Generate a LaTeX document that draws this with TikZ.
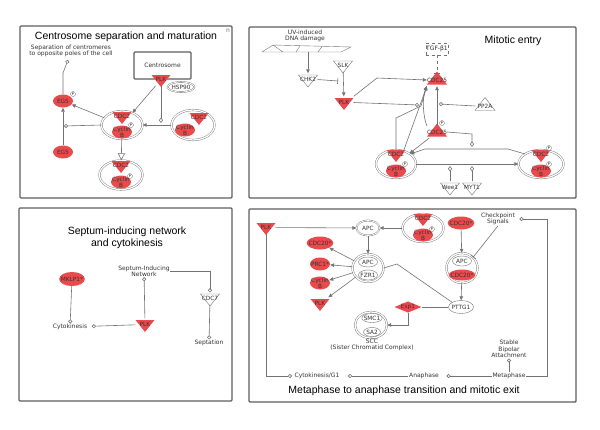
\documentclass[tikz,border=0pt]{standalone}
\usepackage{fontspec}
\setmainfont{Liberation Sans}
\newfontfamily\labelfont{DejaVu Sans}
\usetikzlibrary{positioning,shapes.geometric,arrows.meta}
\definecolor{ipared}{RGB}{234,74,76}
\definecolor{linegray}{RGB}{115,115,115}
\definecolor{framegray}{RGB}{95,95,95}
\tikzset{
  panel/.style={draw=framegray,line width=1.4pt,rounded corners=1pt},
  title/.style={font=\fontsize{10.5}{12.5}\selectfont,align=center,inner sep=0pt},
  lbl/.style={font=\labelfont\fontsize{6}{6.4}\selectfont,align=center,text=black!80,inner sep=0.5pt},
  inlbl/.style={font=\labelfont\fontsize{5.8}{5.6}\selectfont,align=center,text=black!80,inner sep=0pt},
  mol/.style={inlbl,shape=ellipse,fill=ipared,inner xsep=-2pt,inner ysep=-1pt,
        minimum width=20pt,minimum height=13pt},
  protein/.style={inlbl,shape=ellipse,draw=linegray,line width=0.4pt,fill=white,
        inner xsep=-1pt,minimum width=19pt,minimum height=10pt},
  complex/.style={inlbl,shape=ellipse,draw=linegray,line width=0.4pt,double=white,
        double distance=1.3pt,minimum width=41pt,minimum height=28pt},
  genebox/.style={inlbl,minimum width=19pt,minimum height=12pt},
  openshape/.style={fill=white,draw=linegray,line width=0.4pt},
  phos/.style={shape=circle,draw=linegray,fill=white,line width=0.3pt,inner sep=0pt,
        minimum size=5pt,font=\labelfont\fontsize{3.5}{3.5}\selectfont},
  link/.style={draw=linegray,line width=0.6pt},
  act/.style={link,-{Triangle[length=4pt,width=3.5pt]}},
  leadsto/.style={link,-{Circle[open,length=4pt]}},
  modulates/.style={link,-{Diamond[open,length=5.5pt,width=4pt]}},
  inhibits/.style={link,-{Bar[width=6pt]}},
  transloc/.style={link,-{Triangle[open,length=7pt,width=7pt]}}
}
\newcommand{\kinase}[4][fill=ipared]{%
  %% triangle pointing down
  \path[#1,shift={(#3)}] (-9.5,-6) -- (9.5,-6) -- (0,6) -- cycle;
  \node[genebox,yshift=1.5pt] (#2) at (#3) {#4};}
\newcommand{\phosphatase}[4][fill=ipared]{%
  %% triangle pointing up
  \path[#1,shift={(#3)}] (-10,6.5) -- (10,6.5) -- (0,-6.5) -- cycle;
  \node[genebox,yshift=-2pt] (#2) at (#3) {#4};}
\newcommand{\phosmark}[2]{\node[phos] (#1) at (#2) {P};}

\begin{document}
\begin{tikzpicture}[x=1pt,y=-1pt]
  \fill[white] (0,0) rectangle (600,429);
  \useasboundingbox (0,0) rectangle (600,429);

  %% Centrosome separation and maturation
  \draw[panel] (20,26) rectangle (232,198);
  \node[title] (titlecs) at (126,37) {Centrosome separation and maturation};
  \node[lbl,text=linegray] (cornern) at (228,31) {n};
  \node[lbl] (sepcentro) at (71,51) {Separation of centromeres\\to opposite poles of the cell};
  \coordinate (sepend) at (68,60);
  \node[lbl,draw=framegray,line width=1.2pt,rounded corners=1pt,
        minimum width=57pt,minimum height=27pt] (centrosome) at (162.5,65.5) {Centrosome};
  \node[complex,minimum width=23pt,minimum height=10pt,double distance=0.8pt]
        (hspninety) at (181,87) {HSP90};
  \kinase{plkcs}{161,81}{PLK}
  \node[mol] (eggup) at (63,101) {EG5};
  \phosmark{peggup}{73,94}
  \node[mol] (eggdown) at (63,152) {EG5};
  \node[complex] (cdccycA) at (122,125) {};
  \node[mol] (cycA) at (122,132) {Cyclin\\B};
  \kinase{cdctwoA}{122,118}{CDC2}
  \phosmark{pA}{131,125}
  \node[complex,minimum width=43pt,minimum height=30pt] (cdccycB) at (193,125) {};
  \node[mol] (cycB) at (185,130) {Cyclin\\B};
  \kinase{cdctwoB}{199,119}{CDC2}
  \node[complex,minimum width=43pt,minimum height=29pt] (cdccycC) at (121,175) {};
  \node[mol] (cycC) at (121,182) {Cyclin\\B};
  \kinase{cdctwoC}{121,167}{CDC2}
  \phosmark{pC}{130,176}
  %% connectors
  \draw[act] (eggdown) -- (eggup);
  \draw[leadsto] (eggup.north) -- (63,73) -- (sepend);
  \coordinate (eggjoin) at (64,126);
  \draw[leadsto] (cdccycA.west) -- (eggjoin);
  \draw[act] (cdccycA) -- (eggup);
  \draw[act] (plkcs) -- (cdccycA);
  \coordinate (plkmod) at (161,123);
  \draw[modulates] (plkcs.south) -- (plkmod);
  \draw[act] (cdccycB) -- (cdccycA);
  \draw[transloc] (cdccycA) -- (cdccycC);

  %% Mitotic entry
  \draw[panel] (249,27) rectangle (576,198);
  \node[title] (titleme) at (513,41) {Mitotic entry};
  \node[lbl] (uvtext) at (305,36) {UV-induced\\DNA damage};
  \draw[link,line width=0.4pt] (262,52) -- (273,45) -- (351,47) -- (341,52) -- cycle
        (273,45) -- (283,52) (300,46) -- (296,52) (322,46.5) -- (318,52);
  \node[inner sep=0pt,minimum width=88pt,minimum height=7pt] (uvdamage) at (306,48.5) {};
  \kinase[openshape]{chktwo}{308,81}{CHK2}
  \kinase[openshape]{slk}{343,67}{SLK}
  \kinase{plkme}{344,104}{PLK}
  \node[lbl,draw=linegray,dashed,minimum width=20pt,minimum height=12pt] (tgfb) at (437,49) {TGF-β1};
  \phosphatase{cdctwofiveA}{437,78}{CDC25}
  \phosphatase[openshape]{pptwoa}{485,104}{PP2A}
  \phosphatase{cdctwofiveB}{437,130}{CDC25}
  \phosmark{pcdcB}{442,123}
  \node[complex,minimum width=40pt,minimum height=28pt] (cdccycD) at (396,164) {};
  \node[mol] (cycD) at (396,171) {Cyclin\\B};
  \kinase{cdctwoD}{396,156}{CDC2}
  \phosmark{pD}{405,164}
  \node[complex,minimum width=45pt,minimum height=28pt] (cdccycE) at (541,164) {};
  \node[mol] (cycE) at (541,171) {Cyclin\\B};
  \kinase{cdctwoE}{541,156}{CDC2}
  \phosmark{pEtop}{549,148}
  \phosmark{pE}{549,164}
  \kinase[openshape]{weeone}{450,189}{Wee1}
  \kinase[openshape]{mytone}{472,189}{MYT1}
  %% connectors
  \draw[act] (chktwo |- uvdamage.south) -- (chktwo.north);
  \coordinate (chkbar) at (338,81);
  \draw[inhibits] (chktwo.east) -- (chkbar);
  \draw[act] (slk) -- (plkme);
  \draw[inhibits,dashed] (tgfb) -- (cdctwofiveA);
  \draw[act] (plkme.north east) -- (377,78) -- (cdctwofiveA.west);
  \coordinate (plkcirc) at (419,105);
  \draw[leadsto] (plkme.east) -- (plkcirc);
  \coordinate (ppcirc) at (439,104);
  \draw[leadsto] (pptwoa.west) -- (ppcirc);
  \draw[act] (cdctwofiveB.north) -- (cdctwofiveA.south);
  \draw[act] (cdctwofiveB.north west) .. controls (423,116) and (422,98) .. (cdctwofiveA.south west);
  \draw[act] (cdccycD.north) -- (396,118) -- (421,106) -- (cdctwofiveA.south west);
  \draw[act] (cdccycD.60) -- (cdctwofiveA.south west);
  \draw[act] (cdctwofiveB) -- (cdccycD);
  \coordinate (cdcmod) at (472,147);
  \draw[modulates] (cdctwofiveB.east) -- (472,134) -- (cdcmod);
  \draw[act] (cdccycE.north west) -- (508,149) -- (425,149) -- (cdccycD.north east);
  \draw[act] (cdccycD.east) -- (cdccycE.west);
  \draw[modulates] (weeone.north) -- (450,166);
  \draw[modulates] (mytone.north) -- (472,166);

  %% Septum-inducing network and cytokinesis
  \draw[panel] (19,208) rectangle (232,401);
  \node[title] (titlesin) at (127,238) {Septum-inducing network\\and cytokinesis};
  \node[mol,minimum height=14pt] (mklp) at (72,279) {MKLP1*};
  \node[lbl] (cytok) at (70,327) {Cytokinesis};
  \kinase{plksin}{145,326}{PLK}
  \node[lbl] (sinnet) at (144,271) {Septum-Inducing\\Network};
  \kinase[openshape]{cdcseven}{210,300}{CDC7}
  \node[lbl] (septation) at (209,343) {Septation};
  %% connectors
  \draw[leadsto] (mklp) -- (cytok);
  \draw[leadsto,shorten >=4pt] (plksin) -- (cytok);
  \draw[leadsto] (plksin) -- (sinnet);
  \draw[leadsto] (sinnet.east) -- (210,271) -- (cdcseven.north);
  \draw[leadsto] (cdcseven) -- (septation);

  %% Metaphase to anaphase transition and mitotic exit
  \draw[panel] (249,209) rectangle (576,402);
  \node[title] (titlemeta) at (404,391) {Metaphase to anaphase transition and mitotic exit};
  \kinase{plkmeta}{266,229}{PLK}
  \node[complex,minimum width=23pt,minimum height=15pt,double distance=0.8pt] (apcA) at (368,228) {APC};
  \node[complex] (cdccycF) at (423,228) {};
  \node[mol] (cycF) at (423,235) {Cyclin\\B};
  \kinase{cdctwoF}{423,220}{CDC2}
  \phosmark{pF}{432,229}
  \node[complex,minimum width=31pt,minimum height=28pt] (apcfzr) at (368,268) {};
  \node[protein] (apcB) at (368,262) {APC};
  \node[protein] (fzrone) at (368,275) {FZR1};
  \node[mol] (cdctwentyA) at (320,243) {CDC20*};
  \node[mol] (prcone) at (320,264) {PRC1*};
  \node[mol] (cycG) at (320,283) {Cyclin\\B};
  \kinase{plkexit}{320,305}{PLK}
  \node[mol] (cdctwentyB) at (461,223) {CDC20*};
  \node[complex,minimum width=31pt,minimum height=30pt] (apccdc) at (462,268) {};
  \node[protein] (apcC) at (462,261) {APC};
  \node[mol,minimum height=11pt] (cdctwentyC) at (462,275) {CDC20*};
  \node[lbl] (checkpt) at (498,219) {Checkpoint\\Signals};
  \node[protein,minimum width=25pt,minimum height=13pt] (pttg) at (461,307) {PTTG1};
  \node[inlbl,shape=diamond,fill=ipared,aspect=2.4] (espone) at (408,307) {Esp1};
  \node[complex,minimum width=32pt,minimum height=26pt] (scc) at (371,325) {};
  \node[protein,minimum width=17pt,minimum height=9pt] (smcone) at (372,318) {SMC1};
  \node[protein,minimum width=17pt,minimum height=9pt] (satwo) at (372,332) {SA2};
  \node[lbl] (scclbl) at (372,345) {SCC\\(Sister Chromatid Complex)};
  \node[lbl] (cytogone) at (317,376) {Cytokinesis/G1};
  \node[lbl] (anaphase) at (424,376) {Anaphase};
  \node[lbl] (metaphase) at (509,376) {Metaphase};
  \node[lbl] (stable) at (509,349) {Stable\\Bipolar\\Attachment};
  %% connectors
  \draw[act] (plkmeta) -- (apcA);
  \draw[act] (cdccycF) -- (apcA);
  \draw[act] (apcA) -- (apcfzr);
  \draw[act] (apcfzr) -- (cdctwentyA);
  \draw[act] (apcfzr) -- (prcone);
  \draw[act] (apcfzr) -- (cycG);
  \draw[act] (apcfzr) -- (plkexit);
  \draw[act] (cdctwentyB) -- (apccdc);
  \draw[inhibits] (checkpt.south) -- (apccdc.north east);
  \draw[act] (apccdc) -- (pttg);
  \draw[link] (apcfzr.east) -- (397,264) -- (pttg.north west);
  \draw[link] (pttg) -- (espone);
  \draw[act] (espone.south) -- (408,325) -- (scc.east);
  \draw[leadsto,shorten >=2pt] (plkmeta.south) -- (266,376) -- (cytogone.west);
  \draw[leadsto,shorten >=8pt] (anaphase.west) -- (cytogone.east);
  \draw[leadsto,shorten >=7pt] (metaphase.west) -- (anaphase.east);
  \draw[leadsto] (metaphase.north) -- (stable.south);
  \draw[leadsto,shorten >=4pt] (metaphase.east) -- (547,376) -- (547,219) -- (checkpt.east);
\end{tikzpicture}
\end{document}
